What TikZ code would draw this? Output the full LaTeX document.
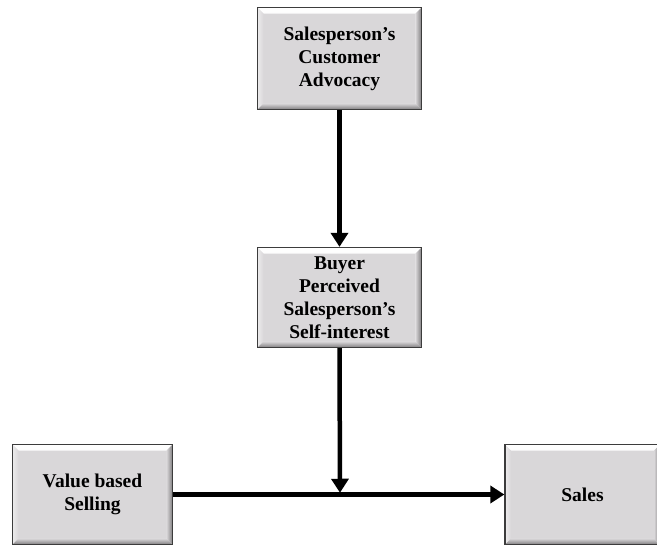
\documentclass[tikz,border=0pt]{standalone}
\usepackage{fontspec}
\setmainfont{Liberation Serif}
\usetikzlibrary{arrows.meta,calc}
\definecolor{boxfill}{HTML}{D9D7D9}
\definecolor{boxborder}{HTML}{3C3C3C}
\definecolor{bevdark}{HTML}{7E7C7E}
\newcommand{\bev}{6pt}
\tikzset{
  bx/.style={draw=boxborder, line width=1.3pt, fill=boxfill, inner sep=0pt,
    align=center, font=\bfseries\fontsize{19.5}{23}\selectfont,
    path picture={
      \shade[top color=white, bottom color=boxfill]
        (path picture bounding box.north west) -- (path picture bounding box.north east)
        -- ([xshift=-\bev,yshift=-\bev]path picture bounding box.north east)
        -- ([xshift=\bev,yshift=-\bev]path picture bounding box.north west) -- cycle;
      \shade[left color=white!50!boxfill, right color=boxfill]
        (path picture bounding box.north west) -- ([xshift=\bev,yshift=-\bev]path picture bounding box.north west)
        -- ([xshift=\bev,yshift=\bev]path picture bounding box.south west)
        -- (path picture bounding box.south west) -- cycle;
      \shade[top color=boxfill, bottom color=bevdark]
        (path picture bounding box.south west) -- (path picture bounding box.south east)
        -- ([xshift=-\bev,yshift=\bev]path picture bounding box.south east)
        -- ([xshift=\bev,yshift=\bev]path picture bounding box.south west) -- cycle;
      \shade[left color=boxfill, right color=bevdark]
        (path picture bounding box.north east) -- ([xshift=-\bev,yshift=-\bev]path picture bounding box.north east)
        -- ([xshift=-\bev,yshift=\bev]path picture bounding box.south east)
        -- (path picture bounding box.south east) -- cycle;
    }},
  conn/.style={line width=4.5pt, -{Triangle[length=14pt,width=17pt]}}
}
\begin{document}
\begin{tikzpicture}[x=1pt,y=-1pt]
\useasboundingbox (0,0) rectangle (657,547);
\node[bx, minimum width=164pt, minimum height=102pt] (cust) at (339.5,58.5) {Salesperson’s\\Customer\\Advocacy};
\node[bx, minimum width=164pt, minimum height=100pt] (self) at (339.5,297.5) {Buyer\\Perceived\\Salesperson’s\\Self-interest};
\node[bx, minimum width=160pt, minimum height=100pt] (vbs) at (92.5,494.5) {Value based\\Selling};
\node[bx, minimum width=155pt, minimum height=100pt] (sales) at (582.5,494.5) {Sales};
\coordinate (join) at (340,495);
\draw[conn] (cust.south) -- (self.north);
\draw[conn, shorten >=2.25pt] (self.south) -- (join);
\draw[conn] (vbs.east) -- (sales.west);
\end{tikzpicture}
\end{document}
